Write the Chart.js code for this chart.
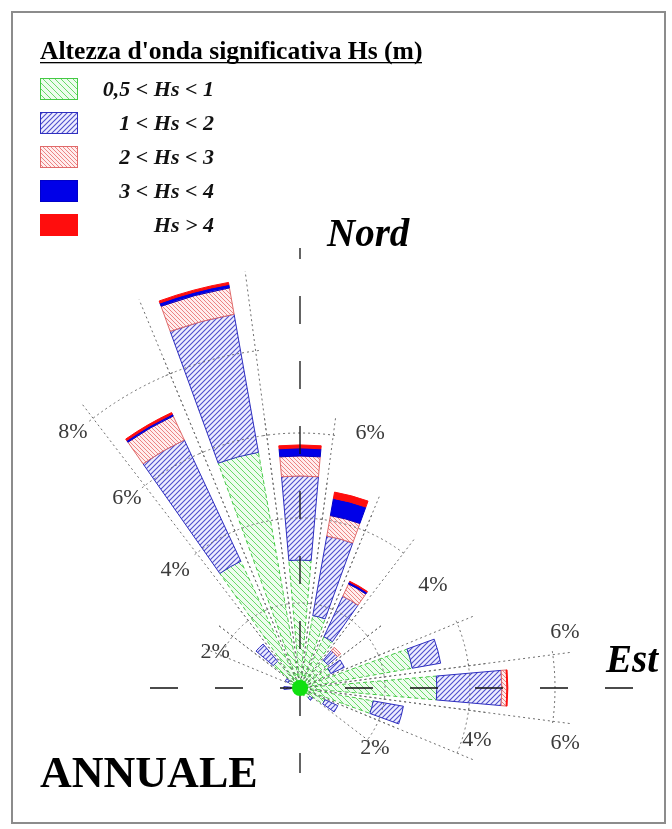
<!DOCTYPE html>
<html>
<head>
<meta charset="utf-8">
<script src="https://cdn.jsdelivr.net/npm/chart.js@4.4.1/dist/chart.umd.min.js"></script>
<style>
  html, body { margin: 0; padding: 0; background: #fff; }
  #wrap { width: 672px; height: 829px; }
</style>
</head>
<body>
<div id="wrap"><canvas id="rose" width="672" height="829"></canvas></div>
<script>
// wave rose, annual - frequency (%) per direction and Hs class
const directions = [0, 15, 30, 45, 60, 75, 90, 105, 120, 135, 150, 165, 180, 195, 210, 225, 240, 255, 270, 285, 300, 315, 330, 345];
const hs05to1 = [3.01, 1.73, 1.33, 0.85, 0.80, 2.68, 3.22, 1.75, 0.65, 0.30, 0.20, 0.12, 0, 0, 0, 0, 0, 0, 0.22, 0.15, 0.30, 0.82, 3.29, 5.63];
const hs1to2  = [1.98, 1.90, 1.05, 0.30, 0.35, 0.68, 1.53, 0.72, 0.33, 0.08, 0, 0, 0, 0, 0, 0, 0, 0, 0.16, 0, 0.08, 0.53, 3.15, 3.30];
const hs2to3  = [0.47, 0.49, 0.32, 0.10, 0, 0, 0.12, 0, 0, 0, 0, 0, 0, 0, 0, 0, 0, 0, 0, 0, 0, 0, 0.62, 0.63];
const hs3to4  = [0.19, 0.41, 0.05, 0, 0, 0, 0, 0, 0, 0, 0, 0, 0, 0, 0, 0, 0, 0, 0, 0, 0, 0, 0.05, 0.08];
const hsOver4 = [0.07, 0.15, 0.02, 0, 0, 0, 0.02, 0, 0, 0, 0, 0, 0, 0, 0, 0, 0, 0, 0, 0, 0, 0, 0.04, 0.05];
// highest grid ring (%) drawn in each sector
const gridTop = [6, 4, 4, 2, 2, 4, 6, 4, 2, 0, 0, 0, 0, 0, 0, 0, 0, 0, 0, 0, 2, 2, 8, 8];

const classLabels = ['0,5 < Hs < 1', '1 < Hs < 2', '2 < Hs < 3', '3 < Hs < 4', 'Hs > 4'];
const ringLabels = ['8%', '6%', '4%', '2%', '6%', '4%', '6%', '6%', '4%', '2%'];
const ringLabelPct = [8.05, 6.05, 4.04, 2.17, 6.22, 3.96, 6.37, 6.37, 4.34, 2.26];
const ringLabelDir = [318.4, 317.7, 313.3, 293, 15.4, 52.2, 78.1, 101.7, 106.4, 128.7];

const W = 672, H = 829;
const CX = 300, CY = 688, PX_PER_PCT = 42.5;
const BAR_HALF = 5, SECTOR_HALF = 7.5;
const SERIF = '"Liberation Serif", "Times New Roman", serif';

const canvas = document.getElementById('rose');
const ctx0 = canvas.getContext('2d');

function hatch(bg, fg, step, dir, width) {
    const c = document.createElement('canvas');
    c.width = step; c.height = step;
    const g = c.getContext('2d');
    g.fillStyle = bg;
    g.fillRect(0, 0, step, step);
    g.strokeStyle = fg;
    g.lineWidth = width;
    g.beginPath();
    if (dir > 0) { // "/"
        g.moveTo(-1, step + 1); g.lineTo(step + 1, -1);
        g.moveTo(-1, 1); g.lineTo(1, -1);
        g.moveTo(step - 1, step + 1); g.lineTo(step + 1, step - 1);
    } else { // "\"
        g.moveTo(-1, -1); g.lineTo(step + 1, step + 1);
        g.moveTo(step - 1, -1); g.lineTo(step + 1, 1);
        g.moveTo(-1, step - 1); g.lineTo(1, step + 1);
    }
    g.stroke();
    return ctx0.createPattern(c, 'repeat');
}

const classStyles = [
    { fill: hatch('#eefcee', 'rgba(70,210,70,0.8)', 6, -1, 1), stroke: '#44c944', dash: [4, 3] },
    { fill: hatch('#eeeeff', '#4e4ecc', 5, 1, 1.1), stroke: '#2f2fbf', dash: [] },
    { fill: hatch('#ffeeee', '#ec8484', 4, -1, 1), stroke: '#e06a6a', dash: [] },
    { fill: '#0000e8', stroke: '#0000c8', dash: [] },
    { fill: '#ff0d0d', stroke: '#ff0d0d', dash: [] }
];
const series = [hs05to1, hs1to2, hs2to3, hs3to4, hsOver4];

function rad(deg) { return (deg - 90) * Math.PI / 180; }

function geom(chart) {
    const x = chart.scales.x, y = chart.scales.y;
    return {
        cx: x.getPixelForValue(0),
        cy: y.getPixelForValue(0),
        k: x.getPixelForValue(1) - x.getPixelForValue(0)
    };
}

function pointAt(chart, pct, deg) {
    const a = deg * Math.PI / 180;
    return [chart.scales.x.getPixelForValue(pct * Math.sin(a)),
            chart.scales.y.getPixelForValue(pct * Math.cos(a))];
}

function wedgePath(ctx, g, r0, r1, d0, d1) {
    ctx.beginPath();
    ctx.arc(g.cx, g.cy, r1 * g.k, rad(d0), rad(d1));
    ctx.arc(g.cx, g.cy, r0 * g.k, rad(d1), rad(d0), true);
    ctx.closePath();
}

function fitFont(ctx, text, style, target) {
    ctx.font = style + ' 20px ' + SERIF;
    const w = ctx.measureText(text).width;
    return style + ' ' + (20 * target / w).toFixed(1) + 'px ' + SERIF;
}

const rosePlugin = {
    id: 'rose',
    beforeDraw(chart) {
        const ctx = chart.ctx;
        ctx.save();
        ctx.fillStyle = '#fff';
        ctx.fillRect(0, 0, W, H);
        ctx.strokeStyle = '#8c8c8c';
        ctx.lineWidth = 2;
        ctx.strokeRect(12, 12, 653, 811);
        ctx.restore();
    },
    afterDatasetsDraw(chart) {
        const ctx = chart.ctx;
        const g = geom(chart);
        ctx.save();

        // stacked bars
        directions.forEach((d, i) => {
            let base = 0;
            series.forEach((s, j) => {
                const v = s[i];
                if (!v) return;
                const st = classStyles[j];
                wedgePath(ctx, g, base, base + v, d - BAR_HALF, d + BAR_HALF);
                ctx.fillStyle = st.fill;
                ctx.fill();
                ctx.setLineDash(st.dash);
                ctx.strokeStyle = st.stroke;
                ctx.lineWidth = 1;
                ctx.stroke();
                base += v;
            });
        });

        // dotted grid per sector
        ctx.setLineDash([2, 3]);
        ctx.strokeStyle = '#6e6e6e';
        ctx.lineWidth = 1;
        directions.forEach((d, i) => {
            const top = gridTop[i];
            if (!top) return;
            const total = series.reduce((a, s) => a + s[i], 0);
            const edge = Math.max(top + 0.45, total + 0.2);
            for (let r = 2; r <= top; r += 2) {
                ctx.beginPath();
                ctx.arc(g.cx, g.cy, r * g.k, rad(d - SECTOR_HALF - 0.8), rad(d + SECTOR_HALF + 0.8));
                ctx.stroke();
            }
            [d - SECTOR_HALF, d + SECTOR_HALF].forEach(e => {
                const p = pointAt(chart, edge, e);
                ctx.beginPath();
                ctx.moveTo(g.cx, g.cy);
                ctx.lineTo(p[0], p[1]);
                ctx.stroke();
            });
        });

        // north / east axes, long dashes
        ctx.strokeStyle = '#111';
        ctx.lineWidth = 1.3;
        ctx.setLineDash([28, 37]);
        const arms = [[0, 440, 26], [180, 85, 0], [270, 160, 8], [90, 340, 20]];
        arms.forEach(([d, len, off]) => {
            const p = pointAt(chart, len / g.k, d);
            ctx.lineDashOffset = off;
            ctx.beginPath();
            ctx.moveTo(g.cx, g.cy);
            ctx.lineTo(p[0], p[1]);
            ctx.stroke();
        });
        ctx.setLineDash([]);
        ctx.lineDashOffset = 0;

        // centre, where all the green hatching meets
        ctx.fillStyle = '#10e010';
        ctx.beginPath();
        ctx.arc(g.cx, g.cy, 8, 0, Math.PI * 2);
        ctx.fill();

        // ring labels
        ctx.fillStyle = '#3a3a3a';
        ctx.font = '22px ' + SERIF;
        ctx.textAlign = 'center';
        ctx.textBaseline = 'middle';
        ringLabels.forEach((t, i) => {
            const p = pointAt(chart, ringLabelPct[i], ringLabelDir[i]);
            ctx.fillText(t, p[0], p[1]);
        });

        // title + legend
        ctx.fillStyle = '#000';
        ctx.textBaseline = 'alphabetic';
        ctx.textAlign = 'left';
        const title = "Altezza d'onda significativa Hs (m)";
        ctx.font = fitFont(ctx, title, 'bold', 382);
        ctx.fillText(title, 40, 59);
        ctx.fillRect(40, 62, 382, 1.3);

        classLabels.forEach((t, j) => {
            const top = 78 + j * 34;
            const st = classStyles[j];
            ctx.fillStyle = st.fill;
            ctx.fillRect(40, top, 38, 22);
            ctx.strokeStyle = st.stroke;
            ctx.lineWidth = 1;
            ctx.setLineDash([]);
            ctx.strokeRect(40.5, top + 0.5, 37, 21);
            ctx.fillStyle = '#111';
            ctx.font = 'italic bold 22px ' + SERIF;
            ctx.textAlign = 'right';
            ctx.fillText(t, 214, top + 18);
        });

        // compass words and season
        ctx.fillStyle = '#000';
        ctx.textAlign = 'left';
        ctx.font = 'italic bold 39px ' + SERIF;
        ctx.fillText('Nord', 327, 246);
        ctx.fillText('Est', 606, 672);
        ctx.font = 'bold 44px ' + SERIF;
        ctx.fillText('ANNUALE', 40, 787);

        ctx.restore();
    }
};

new Chart(canvas, {
    type: 'scatter',
    data: { datasets: [{ data: [], pointRadius: 0 }] },
    options: {
        responsive: false,
        animation: false,
        events: [],
        layout: { padding: 0 },
        plugins: { legend: { display: false }, tooltip: { enabled: false } },
        scales: {
            x: { type: 'linear', display: false, min: -CX / PX_PER_PCT, max: (W - CX) / PX_PER_PCT },
            y: { type: 'linear', display: false, min: -(H - CY) / PX_PER_PCT, max: CY / PX_PER_PCT }
        }
    },
    plugins: [rosePlugin]
});
</script>
</body>
</html>
